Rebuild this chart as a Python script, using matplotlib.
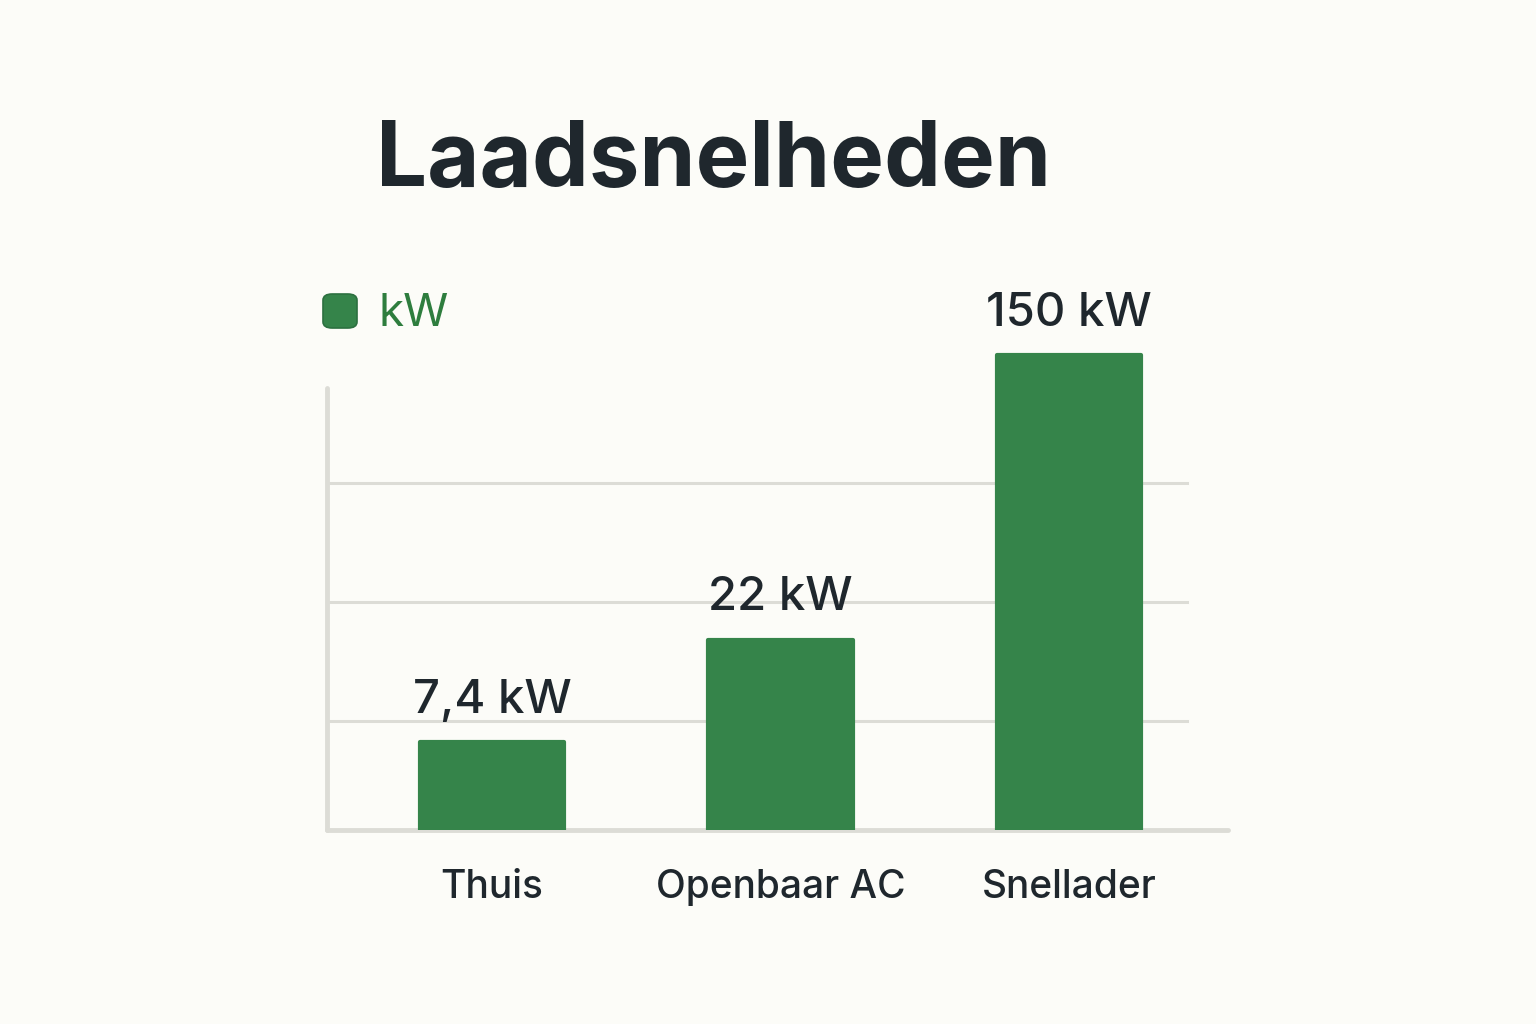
import numpy as np
import matplotlib
matplotlib.use("Agg")
from matplotlib import pyplot as plt
from matplotlib.patches import FancyBboxPatch

# Data
categories = ["Thuis", "Openbaar AC", "Snellader"]
values_kw = [7.4, 22, 150]
value_labels = ["7,4 kW", "22 kW", "150 kW"]

BG = "#fcfcf8"
GREEN = "#35844a"
TEXT = "#1f272d"
GRID = "#dcdcd6"

plt.rcParams['font.family'] = ['Inter', 'DejaVu Sans']

# compressed value axis (the reference is not linear)
C = 12.0
def fwd(v):
    return np.log1p(np.maximum(v, 0) / C)
def inv(y):
    return C * np.expm1(y)

fig = plt.figure(figsize=(15.36, 10.24), dpi=100, facecolor=BG)
W, H = 1536, 1024
ax_l, ax_r, ax_b, ax_t = 327, 1228, 830, 300
ax = fig.add_axes([ax_l / W, 1 - ax_b / H, (ax_r - ax_l) / W, (ax_b - ax_t) / H])
ax.set_facecolor(BG)
ax.set_yscale('function', functions=(fwd, inv))

px_per_unit = 475 / fwd(150)
ax.set_ylim(0, inv((ax_b - ax_t) / px_per_unit))
unit = 288.5
ax.set_xlim((ax_l - 492) / unit, (ax_r - 492) / unit)

x = np.arange(len(categories))
bars = ax.bar(x, values_kw, width=0.5, color=GREEN, edgecolor=GREEN,
              linewidth=3, joinstyle='round', zorder=3)

# grid lines at even pixel spacing
for k in range(1, 4):
    yv = inv((109 + (k - 1) * 119) / px_per_unit)
    ax.axhline(yv, xmin=0, xmax=(1187 - ax_l) / (ax_r - ax_l), color=GRID, lw=2.2, zorder=1)

for s in ['top', 'right']:
    ax.spines[s].set_visible(False)
ax.spines['left'].set_color(GRID)
ax.spines['left'].set_linewidth(3.5)
ax.spines['left'].set_capstyle('round')
ax.spines['left'].set_bounds(0, inv(442 / px_per_unit))
ax.spines['bottom'].set_color(GRID)
ax.spines['bottom'].set_linewidth(3.5)
ax.spines['bottom'].set_capstyle('round')

ax.set_yticks([])
ax.set_xticks(x)
ax.set_xticklabels(categories, fontsize=28, color=TEXT, fontweight='medium')
ax.tick_params(axis='x', length=0, pad=28)

for xi, v, lab in zip(x, values_kw, value_labels):
    ax.annotate(lab, (xi, v), xytext=(0, 14), textcoords='offset points',
                ha='center', va='bottom', fontsize=34, color=TEXT, fontweight='medium')

fig.text(714 / W, 1 - 186 / H, "Laadsnelheden", ha='center', va='baseline',
         fontsize=65, fontweight='bold', color=TEXT)

# legend
leg = FancyBboxPatch((323 / W, 1 - 328 / H), 34 / W, 34 / H,
                     boxstyle="round,pad=0,rounding_size=0.006",
                     transform=fig.transFigure, facecolor=GREEN, edgecolor="#2c7040", lw=1.2)
fig.patches.append(leg)
fig.text(379 / W, 1 - 314 / H, "kW", ha='left', va='center', fontsize=33, color="#2e7d3e")

fig.savefig("out.png", dpi=100, facecolor=BG)
